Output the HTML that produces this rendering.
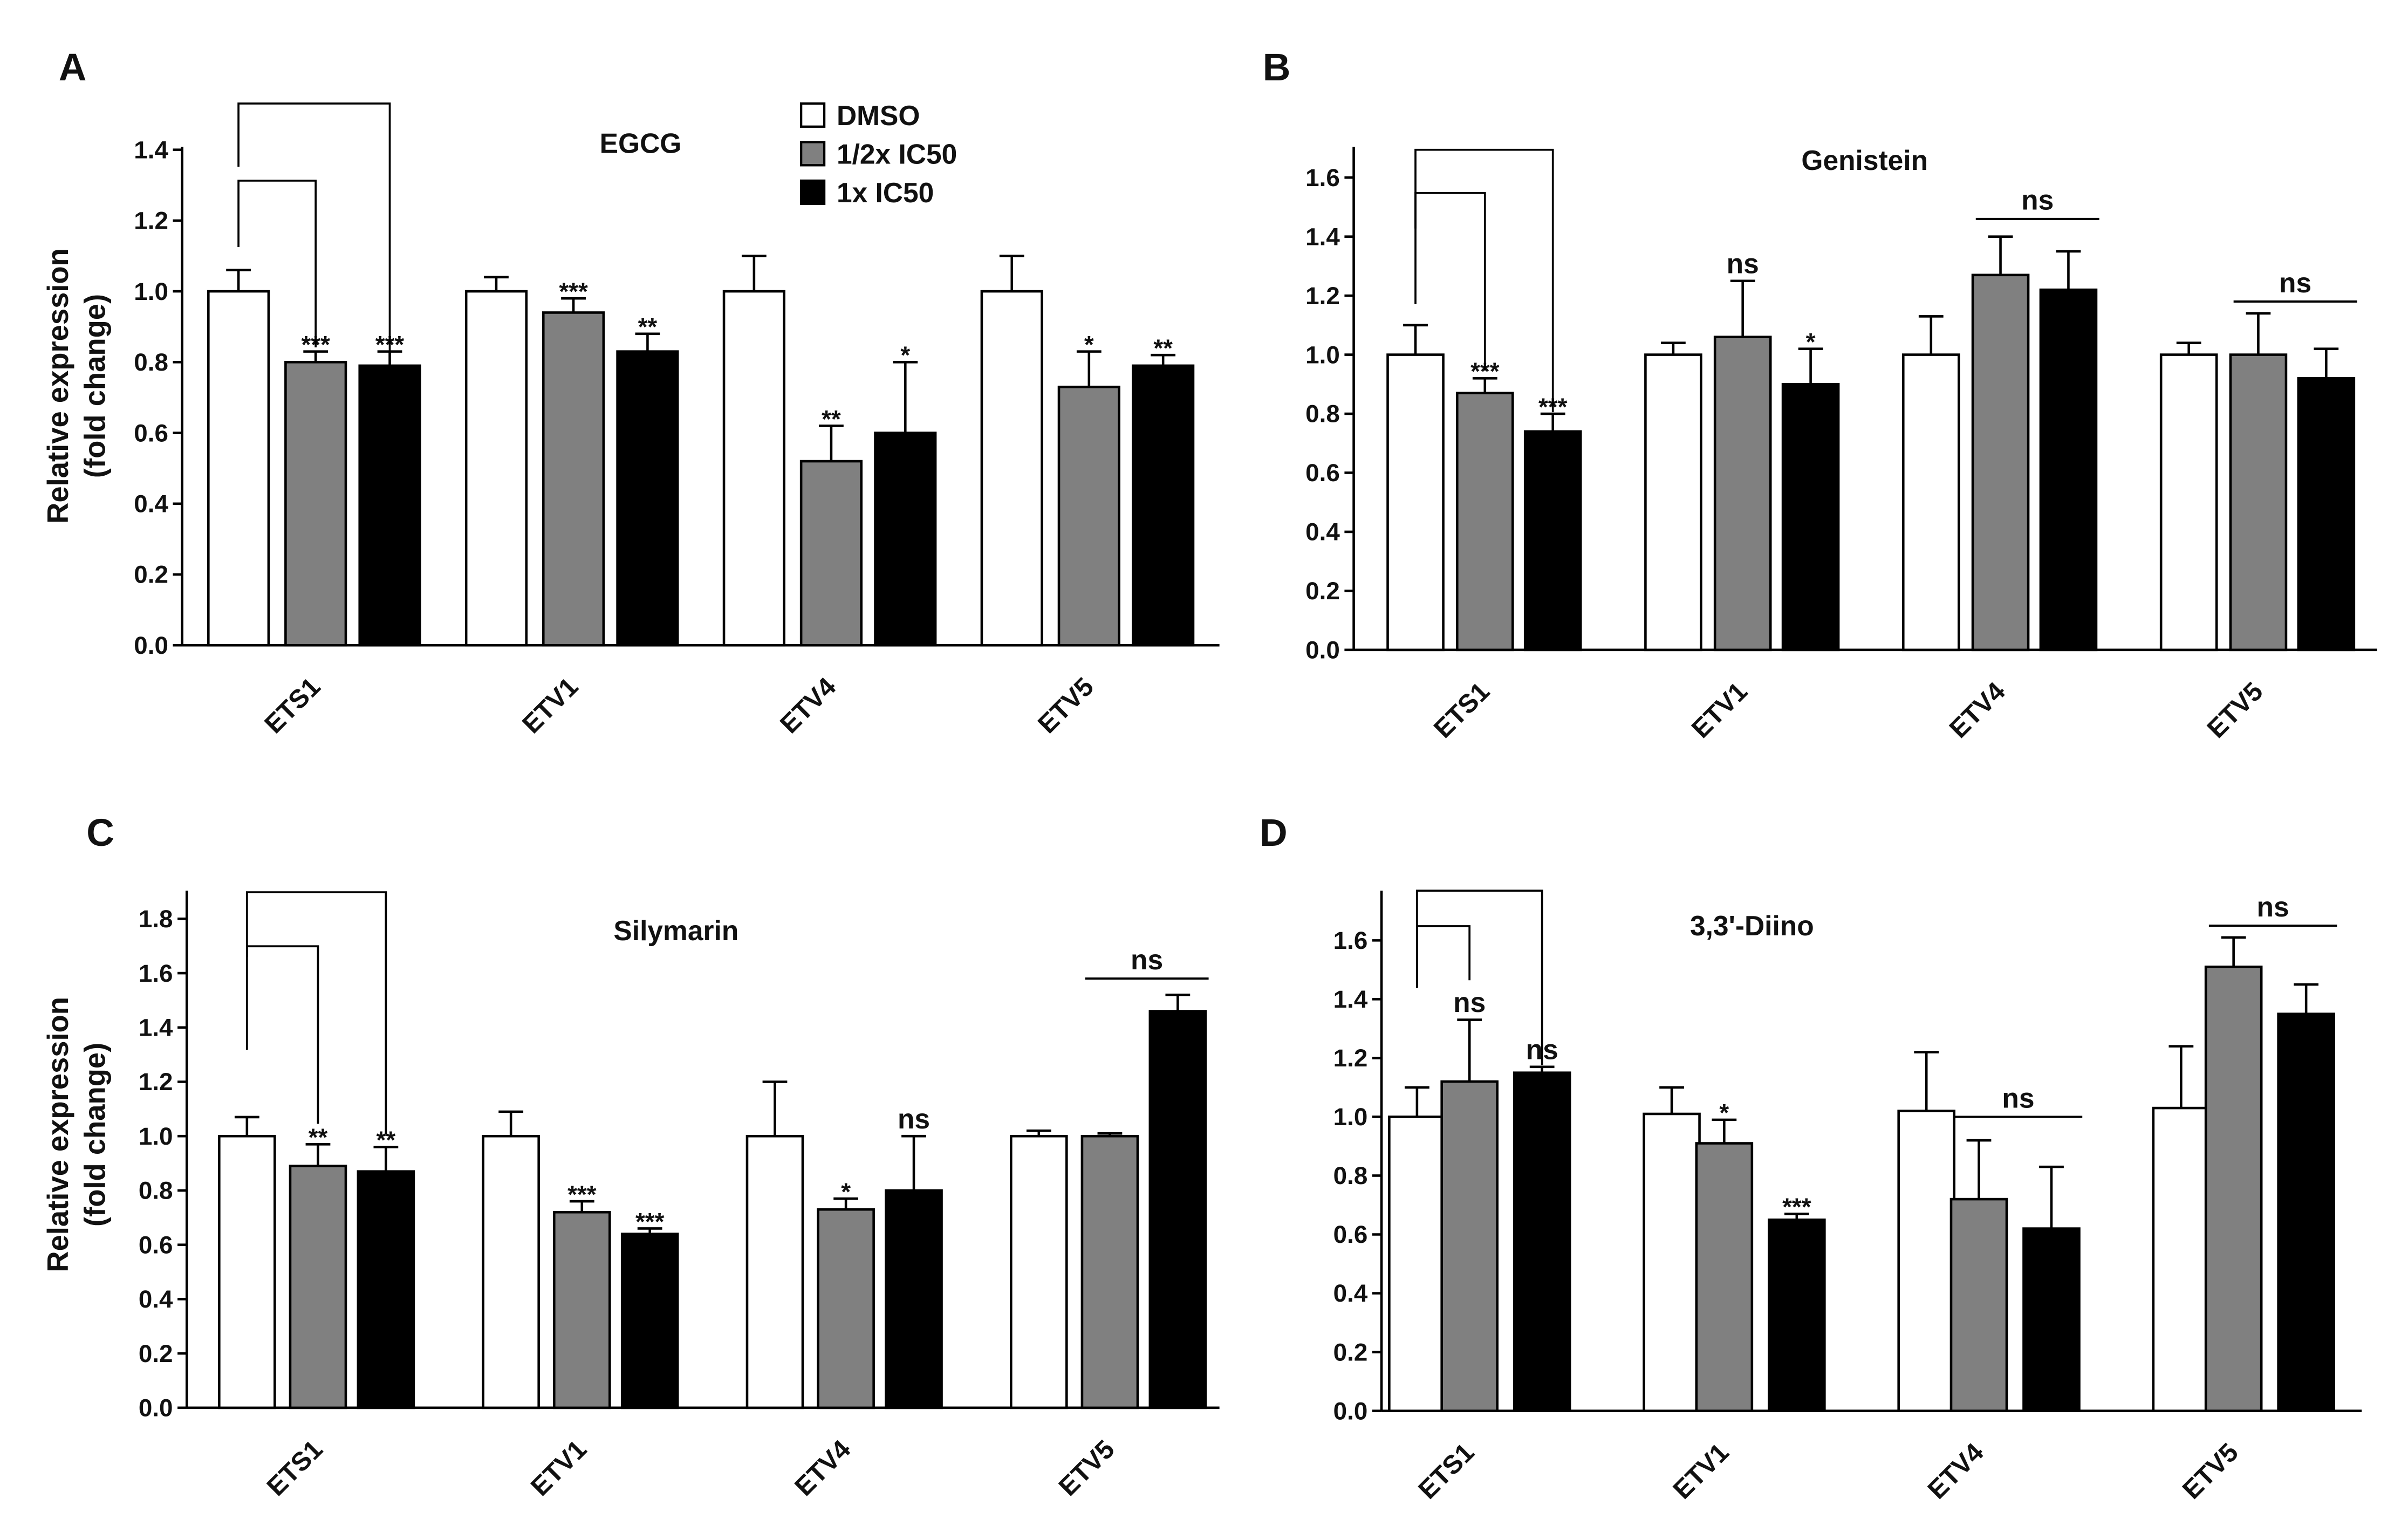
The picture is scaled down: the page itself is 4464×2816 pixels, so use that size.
<!DOCTYPE html>
<html><head><meta charset="utf-8">
<style>
html,body{margin:0;padding:0;background:#fff;}
svg{display:block;}
text{font-family:"Liberation Sans",Arial,sans-serif;font-weight:bold;fill:#111;}
</style></head>
<body>
<svg id="fig" width="4464" height="2816" viewBox="0 0 1560 984" xmlns="http://www.w3.org/2000/svg"></svg>
<script>
const genes = ["ETS1","ETV1","ETV4","ETV5"];
const legendLabels = ["DMSO","1/2x IC50","1x IC50"];
// Panel A: EGCG
const aMeans = [[1.0,0.80,0.79],[1.0,0.94,0.83],[1.0,0.52,0.60],[1.0,0.73,0.79]];
const aErrs  = [[0.06,0.03,0.04],[0.04,0.04,0.05],[0.10,0.10,0.20],[0.10,0.10,0.03]];
const aStars = [["","***","***"],["","***","**"],["","**","*"],["","*","**"]];
const aTicks = [0,0.2,0.4,0.6,0.8,1.0,1.2,1.4];
// Panel B: Genistein
const bMeans = [[1.0,0.87,0.74],[1.0,1.06,0.90],[1.0,1.27,1.22],[1.0,1.0,0.92]];
const bErrs  = [[0.10,0.05,0.06],[0.04,0.19,0.12],[0.13,0.13,0.13],[0.04,0.14,0.10]];
const bStars = [["","***","***"],["","ns","*"],["","",""],["","",""]];
const bTicks = [0,0.2,0.4,0.6,0.8,1.0,1.2,1.4,1.6];
// Panel C: Silymarin
const cMeans = [[1.0,0.89,0.87],[1.0,0.72,0.64],[1.0,0.73,0.80],[1.0,1.0,1.46]];
const cErrs  = [[0.07,0.08,0.09],[0.09,0.04,0.02],[0.20,0.04,0.20],[0.02,0.01,0.06]];
const cStars = [["","**","**"],["","***","***"],["","*","ns"],["","",""]];
const cTicks = [0,0.2,0.4,0.6,0.8,1.0,1.2,1.4,1.6,1.8];
// Panel D: 3,3'-Diino
const dMeans = [[1.0,1.12,1.15],[1.01,0.91,0.65],[1.02,0.72,0.62],[1.03,1.51,1.35]];
const dErrs  = [[0.10,0.21,0.02],[0.09,0.08,0.02],[0.20,0.20,0.21],[0.21,0.10,0.10]];
const dStars = [["","ns","ns"],["","*","***"],["","",""],["","",""]];
const dTicks = [0,0.2,0.4,0.6,0.8,1.0,1.2,1.4,1.6];

const NS="http://www.w3.org/2000/svg";
const svg=document.getElementById('fig');
function el(tag,attrs,parent,txt){const e=document.createElementNS(NS,tag);for(const k in attrs)e.setAttribute(k,attrs[k]);if(txt!==undefined)e.textContent=txt;(parent||svg).appendChild(e);return e;}
const fills=["#ffffff","#808080","#000000"];

function panel(cfg){
  const g=el('g',{});
  
  
  const y=v=>cfg.y0-(v/cfg.tickStep)*cfg.pxStep;
  const x=(gi,si)=>cfg.gx0+gi*cfg.gstep+cfg.offs[si];
  // axes
  const ya=el('line',{x1:cfg.ax,y1:cfg.y0,x2:cfg.ax,y2:cfg.ytop,stroke:'#000','stroke-width':1.6},g);
  
  const xa=el('line',{x1:cfg.ax,y1:cfg.y0,x2:cfg.xend,y2:cfg.y0,stroke:'#000','stroke-width':1.6},g);
  
  cfg.ticks.forEach(t=>{
    const yy=y(t);
    el('line',{x1:cfg.ax-6,y1:yy,x2:cfg.ax,y2:yy,stroke:'#000','stroke-width':1.6},g);
    const tl=el('text',{x:cfg.ax-9,y:yy+5.5,'text-anchor':'end','font-size':16},g,t.toFixed(1));
    
  });
  // bars
  cfg.means.forEach((grp,gi)=>{
    grp.forEach((m,si)=>{
      const bx=x(gi,si), top=y(m), cx=bx+cfg.bw/2, et=y(m+cfg.errs[gi][si]);
      const eb=el('line',{x1:cx,y1:top,x2:cx,y2:et,stroke:'#000','stroke-width':1.6},g);
      
      el('line',{x1:cx-8,y1:et,x2:cx+8,y2:et,stroke:'#000','stroke-width':1.6},g);
      const r=el('rect',{x:bx,y:top,width:cfg.bw,height:cfg.y0-top,fill:fills[si],stroke:'#000','stroke-width':1.6},g);
      
      
      const s=cfg.stars[gi][si];
      if(s){const st=el('text',{x:cx,y:et-5+(s==='ns'?0:6),'text-anchor':'middle','font-size':s==='ns'?18:16},g,s);
        }
    });
    const lx=x(gi,1)+cfg.bw/2+4, ly=cfg.y0+28;
    const lab=el('text',{x:lx,y:ly,'text-anchor':'end','font-size':17,transform:`rotate(-45 ${lx} ${ly})`},g,genes[gi]);
    
  });
  // ns lines
  (cfg.nsLines||[]).forEach(n=>{
    const x1=x(n.g,1)+2,x2=x(n.g,2)+cfg.bw+2,yy=y(n.v);
    const ln=el('line',{x1:x1,y1:yy,x2:x2,y2:yy,stroke:'#000','stroke-width':1.4},g);
    
    el('text',{x:(x1+x2)/2,y:yy-6,'text-anchor':'middle','font-size':18},g,'ns');
  });
  // brackets
  cfg.brackets.forEach(b=>{
    const xa=x(0,0)+cfg.bw/2, xb=x(0,b.s)+cfg.bw/2;
    const p=el('path',{d:`M${xa},${b.y1} L${xa},${b.top} L${xb},${b.top} L${xb},${b.y2}`,fill:'none',stroke:'#000','stroke-width':1.3},g);
    
  });
  const ti=el('text',{x:cfg.tx,y:cfg.ty,'text-anchor':'middle','font-size':18},g,cfg.title);
  
  const pl=el('text',{x:cfg.lx,y:cfg.ly,'font-size':25},g,cfg.letter);
  
  if(cfg.ytitle){
    const yt=el('text',{'text-anchor':'middle','font-size':19,transform:`translate(${cfg.ytx} ${cfg.yty}) rotate(-90)`},g);
    
    el('tspan',{x:0,y:0},yt,'Relative expression');
    el('tspan',{x:0,y:24},yt,'(fold change)');
  }
}

panel({name:'panel-a-egcg',letter:'A',lx:38,ly:52,title:'EGCG',tx:415,ty:99,ax:118,ytop:95,xend:790,y0:418,pxStep:45.86,tickStep:0.2,ticks:aTicks,
  gx0:135,gstep:167,offs:[0,50,98],bw:39,means:aMeans,errs:aErrs,stars:aStars,
  brackets:[{s:2,top:67,y1:108,y2:228},{s:1,top:117,y1:160,y2:225}],ytitle:true,ytx:44,yty:250});
panel({name:'panel-b-genistein',letter:'B',lx:818,ly:52,title:'Genistein',tx:1208,ty:110,ax:877,ytop:95,xend:1540,y0:421,pxStep:38.25,tickStep:0.2,ticks:bTicks,
  gx0:899,gstep:167,offs:[0,45,89],bw:36,means:bMeans,errs:bErrs,stars:bStars,
  nsLines:[{g:2,v:1.46},{g:3,v:1.18}],
  brackets:[{s:2,top:97,y1:148,y2:267},{s:1,top:125,y1:197,y2:240}]});
panel({name:'panel-c-silymarin',letter:'C',lx:56,ly:548,title:'Silymarin',tx:438,ty:609,ax:121,ytop:577,xend:790,y0:912,pxStep:35.2,tickStep:0.2,ticks:cTicks,
  gx0:142,gstep:171,offs:[0,46,90],bw:36,means:cMeans,errs:cErrs,stars:cStars,
  nsLines:[{g:3,v:1.58}],
  brackets:[{s:2,top:578,y1:620,y2:735},{s:1,top:613,y1:680,y2:728}],ytitle:true,ytx:44,yty:735});
panel({name:'panel-d-diino',letter:'D',lx:816,ly:548,title:"3,3'-Diino",tx:1135,ty:606,ax:895,ytop:577,xend:1530,y0:914,pxStep:38.1,tickStep:0.2,ticks:dTicks,
  gx0:900,gstep:165,offs:[0,34,81],bw:36,means:dMeans,errs:dErrs,stars:dStars,
  nsLines:[{g:2,v:1.0},{g:3,v:1.65}],
  brackets:[{s:2,top:577,y1:640,y2:690},{s:1,top:600,y1:640,y2:635}]});

// legend
const lg=el('g',{});


legendLabels.forEach((l,i)=>{
  const yy=67+i*25;
  const r=el('rect',{x:519,y:yy,width:15,height:15,fill:fills[i],stroke:'#000','stroke-width':1.5},lg);
  
  const t=el('text',{x:542,y:yy+14,'font-size':18},lg,l);
  
});
</script>
</body></html>
